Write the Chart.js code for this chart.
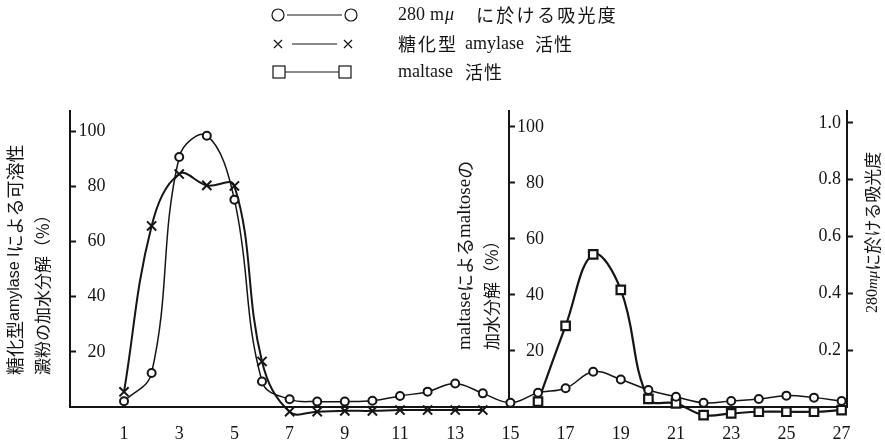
<!DOCTYPE html>
<html>
<head>
<meta charset="utf-8">
<script src="https://cdn.jsdelivr.net/npm/chart.js@4.4.0/dist/chart.umd.min.js"></script>
<style>
html,body{margin:0;padding:0;background:#fff;}
#wrap{width:885px;height:447px;position:relative;}
</style>
</head>
<body>
<div id="wrap"><canvas id="c" width="885" height="447"></canvas></div>
<script>
// ---- data ----
const xTickValues = [1, 3, 5, 7, 9, 11, 13, 15, 17, 19, 21, 23, 25, 27];
const leftTicks = [20, 40, 60, 80, 100];
const midTicks = [20, 40, 60, 80, 100];
const rightTicks = [0.2, 0.4, 0.6, 0.8, 1.0];

const fractions = [1,2,3,4,5,6,7,8,9,10,11,12,13,14,15,16,17,18,19,20,21,22,23,24,25,26,27];
const absorbance = [0.02,0.12,0.88,0.955,0.73,0.09,0.027,0.019,0.019,0.022,0.039,0.054,0.083,0.048,0.015,0.05,0.066,0.124,0.097,0.06,0.036,0.015,0.021,0.028,0.04,0.033,0.021];

const amylaseFractions = [1,2,3,4,5,6,7,8,9,10,11,12,13,14];
const amylase = [5.5,65.6,84.4,80.3,80.1,16.5,-1.7,-1.7,-1.4,-1.4,-1.1,-1.1,-1.1,-1.1];

const maltaseFractions = [16,17,18,19,20,21,22,23,24,25,26,27];
const maltase = [1.9,29,54.5,41.8,2.9,1.3,-2.9,-2.3,-1.7,-1.7,-1.7,-1.1];

// ---- styling ----
const INK = '#151515';
const X_MIN = -0.957, X_MAX = 27.196, MID_AXIS = 14.95;
const LEFT_LABEL_AT = 0.33, MID_LABEL_AT = 16.22, RIGHT_LABEL_AT = 26.98;
const SERIF = '"Liberation Serif", "Noto Sans CJK JP", serif';
const CJKF = '"Noto Sans CJK JP", sans-serif';
const SANS = '"Liberation Sans", "Noto Sans CJK JP", sans-serif';

function toXY(xs, ys) { return xs.map((x, i) => ({x: x, y: ys[i]})); }
function noPad(s) { s.paddingTop = 0; s.paddingBottom = 0; s.paddingLeft = 0; s.paddingRight = 0; }

// axis line + tick marks (no labels)
function yAxisLine(pos, max, tickVals) {
  return {
    type: 'linear', axis: 'y', position: pos, min: 0, max: max,
    afterBuildTicks: s => { s.ticks = tickVals.map(v => ({value: v})); },
    afterFit: noPad,
    grid: {display: true, drawOnChartArea: false, drawTicks: true, tickLength: -7, tickWidth: 2, tickColor: INK, color: INK},
    border: {display: true, color: INK, width: 2},
    ticks: {display: false}
  };
}
// tick labels only (right-aligned at the given position)
function yAxisLabels(pos, max, tickVals, fmt) {
  return {
    type: 'linear', axis: 'y', position: pos, min: 0, max: max,
    afterBuildTicks: s => { s.ticks = tickVals.map(v => ({value: v})); },
    afterFit: noPad,
    grid: {display: false, drawTicks: false},
    border: {display: false},
    ticks: {display: true, color: INK, font: {family: SERIF, size: 18}, padding: 0, callback: fmt || (v => String(v))}
  };
}

function drawRuns(ctx, runs, x, y) {
  let cx = x;
  for (const r of runs) {
    ctx.font = r[1];
    ctx.fillText(r[0], cx, y);
    cx += ctx.measureText(r[0]).width;
  }
}
function drawSpaced(ctx, text, font, x, y, adv) {
  ctx.font = font;
  let i = 0;
  for (const ch of text) { ctx.fillText(ch, x + i * adv, y); i++; }
}
function drawVertical(ctx, runs, x, yBottom) {
  ctx.save();
  ctx.translate(x, yBottom);
  ctx.rotate(-Math.PI / 2);
  ctx.textAlign = 'left';
  ctx.textBaseline = 'middle';
  drawRuns(ctx, runs, 0, 0);
  ctx.restore();
}

const textPlugin = {
  id: 'texts',
  afterDraw(chart) {
    const ctx = chart.ctx;
    ctx.save();
    ctx.fillStyle = INK;
    ctx.strokeStyle = INK;
    ctx.textAlign = 'left';
    ctx.textBaseline = 'middle';
    ctx.lineWidth = 1.2;
    // legend row 1: circles
    let y = 15;
    ctx.beginPath(); ctx.arc(278, y, 6, 0, Math.PI * 2); ctx.stroke();
    ctx.beginPath(); ctx.arc(351, y, 6, 0, Math.PI * 2); ctx.stroke();
    ctx.beginPath(); ctx.moveTo(287, y); ctx.lineTo(342, y); ctx.stroke();
    ctx.font = '18px ' + SERIF; ctx.fillText('280', 398, y);
    ctx.fillText('m', 430, y);
    ctx.font = 'italic 18px ' + SERIF; ctx.fillText('\u03bc', 445, y);
    drawSpaced(ctx, 'に於ける吸光度', '18px ' + CJKF, 476, y, 20.3);
    // legend row 2: crosses
    y = 44;
    ctx.beginPath();
    ctx.moveTo(274, y - 4); ctx.lineTo(282, y + 4); ctx.moveTo(282, y - 4); ctx.lineTo(274, y + 4);
    ctx.moveTo(344, y - 4); ctx.lineTo(352, y + 4); ctx.moveTo(352, y - 4); ctx.lineTo(344, y + 4);
    ctx.moveTo(292, y); ctx.lineTo(337, y);
    ctx.stroke();
    drawSpaced(ctx, '糖化型', '18px ' + CJKF, 398, y, 20);
    ctx.font = '18px ' + SERIF; ctx.fillText('amylase', 465, y);
    drawSpaced(ctx, '活性', '18px ' + CJKF, 535, y, 19);
    // legend row 3: squares
    y = 72;
    ctx.strokeRect(273, y - 6, 12, 12);
    ctx.strokeRect(339, y - 6, 12, 12);
    ctx.beginPath(); ctx.moveTo(285, y); ctx.lineTo(339, y); ctx.stroke();
    ctx.font = '18px ' + SERIF; ctx.fillText('maltase', 398, y);
    drawSpaced(ctx, '活性', '18px ' + CJKF, 465, y, 19);

    // left axis title
    drawVertical(ctx, [['糖化型', '18px ' + CJKF], ['amylase I', '16px ' + SANS], ['による可溶性', '18px ' + CJKF]], 15, 375);
    drawVertical(ctx, [['澱粉の加水分解（%）', '17px ' + CJKF]], 43, 375);
    // middle axis title
    drawVertical(ctx, [['maltase', '19px ' + SERIF], ['による', '18px ' + CJKF], ['maltose', '19px ' + SERIF], ['の', '18px ' + CJKF]], 465, 350);
    drawVertical(ctx, [['加水分解（%）', '17px ' + CJKF]], 492, 350);
    // right axis title
    drawVertical(ctx, [['280', '16px ' + SERIF], ['m\u03bc', 'italic 15px ' + SERIF], ['に於ける吸光度', '17px ' + CJKF]], 873, 313);
    ctx.restore();
  }
};

new Chart(document.getElementById('c'), {
  type: 'line',
  data: {
    datasets: [
      {
        label: '280 mμ に於ける吸光度',
        data: toXY(fractions, absorbance),
        xAxisID: 'x', yAxisID: 'yR',
        borderColor: INK, borderWidth: 1.5, tension: 0.4, clip: false,
        pointStyle: 'circle', pointRadius: 4, pointBorderWidth: 2,
        pointBackgroundColor: '#fff', pointBorderColor: INK
      },
      {
        label: '糖化型 amylase 活性',
        data: toXY(amylaseFractions, amylase),
        xAxisID: 'x', yAxisID: 'yL',
        borderColor: INK, borderWidth: 2, tension: 0.4, clip: false,
        pointStyle: 'crossRot', pointRadius: 6.5, pointBorderWidth: 2,
        pointBackgroundColor: '#fff', pointBorderColor: INK
      },
      {
        label: 'maltase 活性',
        data: toXY(maltaseFractions, maltase),
        xAxisID: 'x', yAxisID: 'yM',
        borderColor: INK, borderWidth: 2.2, tension: 0.4, clip: false,
        pointStyle: 'rect', pointRadius: 6, pointBorderWidth: 2.2,
        pointBackgroundColor: '#fff', pointBorderColor: INK
      }
    ]
  },
  options: {
    responsive: false,
    animation: false,
    devicePixelRatio: 1,
    layout: {padding: {left: 70, right: 38, top: 111, bottom: 6}},
    plugins: {legend: {display: false}, tooltip: {enabled: false}},
    scales: {
      x: {
        type: 'linear', position: 'bottom', min: X_MIN, max: X_MAX,
        afterBuildTicks: s => { s.ticks = xTickValues.map(v => ({value: v})); },
        afterFit: s => { s.height = 34; s.paddingLeft = 0; s.paddingRight = 0; },
        grid: {display: false, drawTicks: false},
        border: {display: true, color: INK, width: 2},
        ticks: {color: INK, font: {family: SERIF, size: 18}, padding: 16, autoSkip: false, maxRotation: 0, callback: v => String(v)}
      },
      yL: yAxisLine({x: X_MIN}, 107.25, leftTicks),
      yLlab: yAxisLabels({x: LEFT_LABEL_AT}, 107.25, leftTicks),
      yM: yAxisLine({x: MID_AXIS}, 105.7, midTicks),
      yMlab: yAxisLabels({x: MID_LABEL_AT}, 105.7, midTicks),
      yR: yAxisLine({x: X_MAX}, 1.042, rightTicks),
      yRlab: yAxisLabels({x: RIGHT_LABEL_AT}, 1.042, rightTicks, v => Number(v).toFixed(1))
    }
  },
  plugins: [textPlugin]
});
</script>
</body>
</html>
